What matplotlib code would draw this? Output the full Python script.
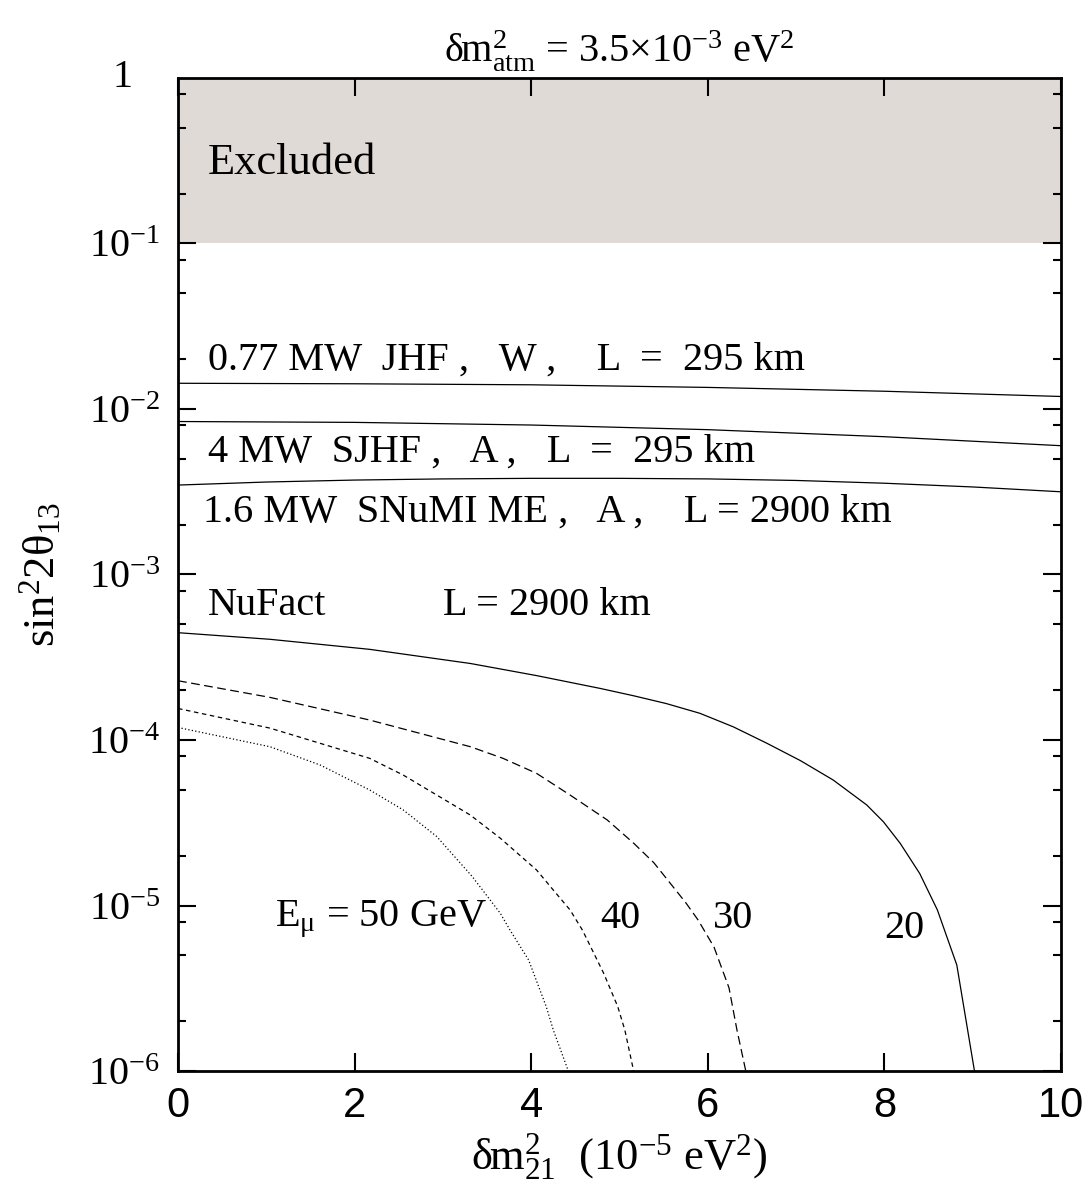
import matplotlib
matplotlib.use("Agg")
import matplotlib.pyplot as plt
from matplotlib.ticker import FixedLocator, NullFormatter

plt.rcParams['font.family'] = ['Liberation Serif', 'DejaVu Serif']
plt.rcParams['mathtext.fontset'] = 'custom'
plt.rcParams['mathtext.rm'] = 'Liberation Serif'
plt.rcParams['mathtext.it'] = 'Liberation Serif:italic'
plt.rcParams['mathtext.bf'] = 'Liberation Serif:bold'

# ---- data ----
excluded_lo = 0.1
excluded_hi = 1.0

jhf_x = [0, 2, 4, 6, 8, 10]
jhf_y = [0.0143, 0.0142, 0.0140, 0.0135, 0.0128, 0.0119]

sjhf_x = [0, 2, 4, 6, 8, 10]
sjhf_y = [0.0084, 0.0083, 0.0080, 0.0075, 0.0068, 0.0060]

snumi_x = [0, 1, 2, 3, 4, 5, 6, 7, 8, 9, 10]
snumi_y = [0.00347, 0.00362, 0.00372, 0.00378, 0.00381, 0.00381,
           0.00378, 0.00370, 0.00356, 0.00338, 0.00316]

nf20_x = [0, 1.04, 2.17, 3.31, 4.06, 4.78, 5.16, 5.53, 5.91, 6.29, 6.67, 7.05,
          7.42, 7.80, 7.99, 8.18, 8.40, 8.60, 8.82, 9.02]
nf20_y = [4.45e-4, 4.06e-4, 3.53e-4, 2.90e-4, 2.45e-4, 2.05e-4, 1.85e-4, 1.66e-4,
          1.45e-4, 1.20e-4, 9.55e-5, 7.5e-5, 5.73e-5, 4.05e-5, 3.2e-5, 2.37e-5,
          1.56e-5, 9.4e-6, 4.37e-6, 1.0e-6]

nf30_x = [0, 1.04, 2.17, 3.31, 3.68, 4.06, 4.44, 4.86, 5.16, 5.39, 5.75, 5.89,
          6.07, 6.24, 6.33, 6.43]
nf30_y = [2.28e-4, 1.81e-4, 1.32e-4, 9.11e-5, 7.75e-5, 6.29e-5, 4.65e-5, 3.29e-5,
          2.38e-5, 1.81e-5, 1.04e-5, 8.17e-6, 5.61e-6, 3.18e-6, 1.77e-6, 1.0e-6]

nf40_x = [0, 1.04, 2.17, 2.55, 2.93, 3.31, 3.65, 4.06, 4.25, 4.44, 4.58, 4.82,
          4.98, 5.06, 5.16]
nf40_y = [1.55e-4, 1.18e-4, 7.75e-5, 6.14e-5, 4.65e-5, 3.52e-5, 2.55e-5, 1.64e-5,
          1.24e-5, 9.4e-6, 7.1e-6, 3.9e-6, 2.45e-6, 1.77e-6, 1.0e-6]

nf50_x = [0, 1.04, 1.61, 2.17, 2.55, 2.93, 3.33, 3.65, 3.76, 3.97, 4.17, 4.25, 4.42]
nf50_y = [1.19e-4, 9.11e-5, 7.06e-5, 4.99e-5, 3.78e-5, 2.61e-5, 1.5e-5, 8.97e-6,
          7.1e-6, 4.69e-6, 2.45e-6, 1.77e-6, 1.0e-6]

x_ticks = [0, 2, 4, 6, 8, 10]
y_ticks = [1e-6, 1e-5, 1e-4, 1e-3, 1e-2, 1e-1]
y_tick_labels = ['10$^{-6}$', '10$^{-5}$', '10$^{-4}$', '10$^{-3}$', '10$^{-2}$', '10$^{-1}$']

# ---- figure ----
fig = plt.figure(figsize=(10.91, 11.94), dpi=100)
ax = fig.add_axes([0.1632, 0.1030, 0.8093, 0.8317])
ax.set_yscale('log')
ax.set_xlim(0, 10)
ax.set_ylim(1e-6, 1)

ax.fill_between([0, 10], [excluded_lo] * 2, [excluded_hi] * 2,
                color='#e0dad6', lw=0, zorder=0)

lw = 0.9
ax.plot(jhf_x, jhf_y, color='black', lw=lw)
ax.plot(sjhf_x, sjhf_y, color='black', lw=lw)
ax.plot(snumi_x, snumi_y, color='black', lw=lw)
ax.plot(nf20_x, nf20_y, color='black', lw=lw)
ax.plot(nf30_x, nf30_y, color='black', lw=lw, dashes=(7, 3.6))
ax.plot(nf40_x, nf40_y, color='black', lw=lw, dashes=(3.6, 2.9))
ax.plot(nf50_x, nf50_y, color='black', lw=lw, dashes=(1.0, 1.8))

# ticks
ax.xaxis.set_major_locator(FixedLocator(x_ticks))
ax.yaxis.set_major_locator(FixedLocator(y_ticks))
minor = []
for k in range(-6, 0):
    for s in (2, 5, 8):
        minor.append(s * 10.0 ** k)
ax.yaxis.set_minor_locator(FixedLocator(minor))
ax.yaxis.set_minor_formatter(NullFormatter())
ax.set_yticklabels(y_tick_labels)
ax.tick_params(axis='both', which='both', direction='in', top=True, right=True, width=1.5)
ax.tick_params(axis='both', which='major', length=13)
ax.tick_params(axis='y', which='minor', length=6)
ax.tick_params(axis='y', which='major', labelsize=29, pad=13)
ax.tick_params(axis='x', which='major', labelsize=30, pad=11)
for lab in ax.get_xticklabels():
    lab.set_family('Liberation Sans')
for sp in ax.spines.values():
    sp.set_linewidth(2)

ax.text(-0.634, 1.0, '1', fontsize=29, ha='center', va='center', clip_on=False)

ax.set_title('δm$^2_{\\rm atm}$ = 3.5×10$^{-3}$ eV$^2$', fontsize=29, pad=12)
ax.set_xlabel('δm$^2_{21}$  (10$^{-5}$ eV$^2$)', fontsize=32, labelpad=4)
ax.set_ylabel('sin$^2$2θ$_{13}$', fontsize=32, labelpad=18)

fs = 29
ax.text(0.34, 0.306, 'Excluded', fontsize=32, va='center', ha='left')
ax.text(0.34, 0.0198, '0.77 MW  JHF ,   W ,    L  =  295 km', fontsize=fs, va='center')
ax.text(0.34, 0.0055, '4 MW  SJHF ,   A ,   L  =  295 km', fontsize=fs, va='center')
ax.text(0.28, 0.00239, '1.6 MW  SNuMI ME ,   A ,    L = 2900 km', fontsize=fs, va='center')
ax.text(0.34, 6.54e-4, 'NuFact', fontsize=fs, va='center')
ax.text(3.0, 6.54e-4, 'L = 2900 km', fontsize=fs, va='center')
ax.text(1.10, 8.3e-6, 'E$_{\\rm μ}$ = 50 GeV', fontsize=fs, va='center')
ax.text(4.78, 8.3e-6, '40', fontsize=fs, va='center')
ax.text(6.06, 8.3e-6, '30', fontsize=fs, va='center')
ax.text(8.0, 7.3e-6, '20', fontsize=fs, va='center')

fig.savefig('out.png', dpi=100)
